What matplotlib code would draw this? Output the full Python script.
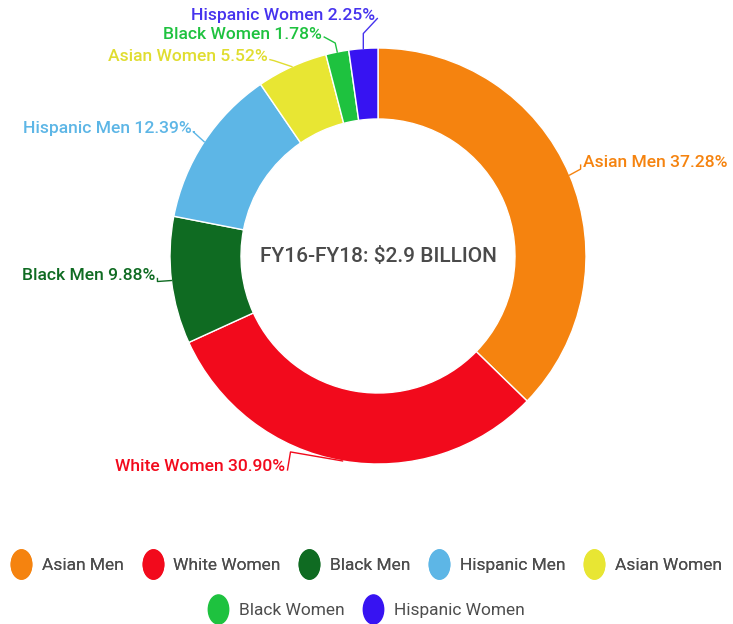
import numpy as np
import matplotlib.pyplot as plt
from matplotlib.path import Path
from matplotlib.lines import Line2D

# data
groups = ["Asian Men", "White Women", "Black Men", "Hispanic Men",
          "Asian Women", "Black Women", "Hispanic Women"]
shares = [37.28, 30.90, 9.88, 12.39, 5.52, 1.78, 2.25]
colors = ["#f5830f", "#f20a1c", "#0f6b22", "#5db6e6",
          "#e8e633", "#1ec23f", "#3713f2"]
label_colors = ["#f5830f", "#f20a1c", "#0f6b22", "#5db6e6",
                "#e0dd30", "#1ec23f", "#4633ee"]
center_text = "FY16-FY18: $2.9 BILLION"

# label placement (pixel offsets from wedge mid point, y down)
# (elbow dx, elbow dy, text dx, text dy, ha)
label_style = [
    ((11, -6), (13, -13), "left"),
    ((-52, -9), (-57, 6), "right"),
    ((-14, 1), (-16, -5), "right"),
    ((-11, -10), (-12, -13), "right"),
    ((-18, -6), (-24, -10), "right"),
    ((-2, -9), (-15, -18), "right"),
    ((0, -15), (12, -33), "right"),
]

W, H = 733, 624
cx, cy = 378, 256          # donut centre in pixels (y down)
R, width = 208, 71

plt.rcParams['font.family'] = ['Roboto', 'DejaVu Sans']

fig = plt.figure(figsize=(W / 100, H / 100), dpi=100)
ax = fig.add_axes([0, 0, 1, 1])

wedges, _ = ax.pie(shares, colors=colors, startangle=90, counterclock=False,
                   radius=R, center=(cx, H - cy),
                   wedgeprops=dict(width=width, edgecolor="white", linewidth=1))
ax.set_xlim(0, W)
ax.set_ylim(0, H)
ax.set_aspect("equal")
ax.axis("off")

# labels with leader lines
for w, name, val, col, (elb, toff, ha) in zip(wedges, groups, shares, label_colors, label_style):
    mid = np.deg2rad((w.theta1 + w.theta2) / 2)
    px = cx + R * np.cos(mid)
    py = cy - R * np.sin(mid)
    ex, ey = px + elb[0], py + elb[1]
    tx, ty = px + toff[0], py + toff[1]
    lx = tx + (2 if ha == "right" else -2)
    ax.plot([px, ex, lx], [H - py, H - ey, H - ty - 3], color=col, lw=1)
    ax.text(tx, H - ty, f"{name} {val:.2f}%", color=col, fontsize=12.6,
            fontweight="medium", ha=ha, va="center")

ax.text(cx, H - cy, center_text, ha="center", va="center",
        fontsize=15, fontweight="medium", color="#4a4a4a")

# legend with oval markers
oval = Path(Path.unit_circle().vertices * [0.7, 1.0], Path.unit_circle().codes)
handles = [Line2D([], [], marker=oval, linestyle="none", markersize=21,
                  markerfacecolor=c, markeredgecolor=c) for c in colors]
leg1 = fig.legend(handles[:5], groups[:5], loc="center", bbox_to_anchor=(0.5, 1 - 565 / H),
                  ncol=5, frameon=False, fontsize=12.5, handlelength=1.2,
                  handletextpad=0.6, columnspacing=1.05, labelcolor="#4d4d4d")
fig.add_artist(leg1)
fig.legend(handles[5:], groups[5:], loc="center", bbox_to_anchor=(0.5, 1 - 610 / H),
           ncol=2, frameon=False, fontsize=12.5, handlelength=1.2,
           handletextpad=0.6, columnspacing=1.05, labelcolor="#4d4d4d")

fig.savefig("out.png", dpi=100)
